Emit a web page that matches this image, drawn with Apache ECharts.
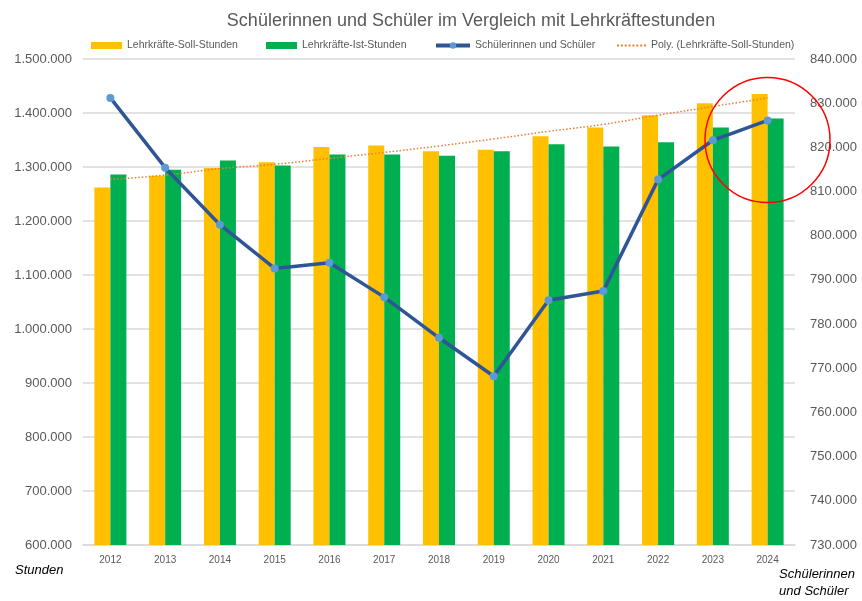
<!DOCTYPE html>
<html>
<head>
<meta charset="utf-8">
<script src="https://cdn.jsdelivr.net/npm/echarts@6/dist/echarts.min.js"></script>
<style>
  html, body { margin: 0; padding: 0; background: #fff; }
  #chart { width: 862px; height: 601px; }
</style>
</head>
<body>
<div id="chart"></div>
<script>
const years = ['2012', '2013', '2014', '2015', '2016', '2017', '2018', '2019', '2020', '2021', '2022', '2023', '2024'];

// Stunden (linke Achse)
const sollStunden = [1262000, 1284000, 1298000, 1309000, 1337000, 1340000, 1329000, 1332000, 1357000, 1373000, 1396000, 1418000, 1435000];
const istStunden = [1286000, 1295000, 1312000, 1303000, 1323000, 1323000, 1321000, 1329000, 1342000, 1338000, 1346000, 1373000, 1390000];
// Polynomischer Trend der Soll-Stunden
const sollTrend = [1277000, 1285000, 1297000, 1305000, 1316000, 1327000, 1339000, 1352000, 1366000, 1379000, 1396000, 1412000, 1428000];

// Schülerinnen und Schüler (rechte Achse)
const schueler = [831200, 815400, 802500, 792600, 793900, 786100, 776900, 768200, 785400, 787500, 812700, 821600, 826100];

const FONT = 'Liberation Sans, Arial, sans-serif';
const GREY = '#595959';

const fmt = (v) => String(v).replace(/\B(?=(\d{3})+(?!\d))/g, '.');

// gepunktete Linie als Legenden-Icon
const dotIcon = 'path://M0,0h2v2h-2zM4,0h2v2h-2zM8,0h2v2h-2zM12,0h2v2h-2zM16,0h2v2h-2zM20,0h2v2h-2zM24,0h2v2h-2zM28,0h2v2h-2z';

const chart = echarts.init(document.getElementById('chart'));

const legendBase = {
  top: 35,
  itemWidth: 31,
  itemHeight: 7,
  itemGap: 0,
  textStyle: { color: GREY, fontSize: 10.5, fontFamily: FONT },
};

chart.setOption({
  animation: false,
  backgroundColor: '#fff',
  title: {
    text: 'Schülerinnen und Schüler im Vergleich mit Lehrkräftestunden',
    left: 466,
    top: 7,
    textAlign: 'center',
    textStyle: { color: GREY, fontSize: 18, fontWeight: 'normal', fontFamily: FONT },
  },
  legend: [
    { ...legendBase, left: 86, data: [{ name: 'Lehrkräfte-Soll-Stunden', icon: 'rect' }] },
    { ...legendBase, left: 261, data: [{ name: 'Lehrkräfte-Ist-Stunden', icon: 'rect' }] },
    { ...legendBase, left: 429, itemWidth: 34, itemHeight: 8, lineStyle: { width: 4 }, data: ['Schülerinnen und Schüler'] },
    { ...legendBase, left: 612, itemWidth: 29, itemHeight: 2, data: [{ name: 'Poly. (Lehrkräfte-Soll-Stunden)', icon: dotIcon }] },
  ],
  grid: { left: 83, right: 67, top: 59, bottom: 56 },
  xAxis: {
    type: 'category',
    data: years,
    axisLine: { lineStyle: { color: '#d9d9d9', width: 1.5 } },
    axisTick: { show: false },
    axisLabel: { color: GREY, fontSize: 10, fontFamily: FONT, margin: 10 },
  },
  yAxis: [
    {
      type: 'value',
      min: 600000,
      max: 1500000,
      interval: 100000,
      axisLine: { show: false },
      axisTick: { show: false },
      splitLine: { lineStyle: { color: '#d9d9d9', width: 1.5 } },
      axisLabel: { color: GREY, fontSize: 13, fontFamily: FONT, margin: 11, formatter: fmt },
    },
    {
      type: 'value',
      min: 730000,
      max: 840000,
      interval: 10000,
      axisLine: { show: false },
      axisTick: { show: false },
      splitLine: { show: false },
      axisLabel: { color: GREY, fontSize: 13, fontFamily: FONT, margin: 15, formatter: fmt },
    },
  ],
  series: [
    {
      name: 'Lehrkräfte-Soll-Stunden',
      type: 'bar',
      data: sollStunden,
      barWidth: 16,
      barGap: '0%',
      itemStyle: { color: '#FFC000' },
    },
    {
      name: 'Lehrkräfte-Ist-Stunden',
      type: 'bar',
      data: istStunden,
      barWidth: 16,
      barGap: '0%',
      itemStyle: { color: '#00B050' },
    },
    {
      name: 'Poly. (Lehrkräfte-Soll-Stunden)',
      type: 'line',
      data: sollTrend,
      smooth: true,
      symbol: 'none',
      lineStyle: { color: '#ED7D31', width: 1.5, type: [1.5, 2] },
      itemStyle: { color: '#ED7D31' },
      z: 3,
    },
    {
      name: 'Schülerinnen und Schüler',
      type: 'line',
      yAxisIndex: 1,
      data: schueler,
      symbol: 'circle',
      symbolSize: 8,
      lineStyle: { color: '#2F5597', width: 3.5 },
      itemStyle: { color: '#5B9BD5', borderWidth: 0 },
      z: 4,
    },
  ],
  graphic: [
    {
      type: 'circle',
      shape: { cx: 767.5, cy: 140, r: 62.5 },
      style: { fill: 'none', stroke: '#FF0000', lineWidth: 1.5 },
      z: 10,
    },
    {
      type: 'text',
      left: 15,
      top: 564,
      style: { text: 'Stunden', fill: '#000', font: 'italic 13px ' + FONT },
    },
    {
      type: 'text',
      right: 7,
      top: 566,
      style: { text: 'Schülerinnen\nund Schüler', fill: '#000', font: 'italic 13px ' + FONT, align: 'right', lineHeight: 17 },
    },
  ],
});
</script>
</body>
</html>
